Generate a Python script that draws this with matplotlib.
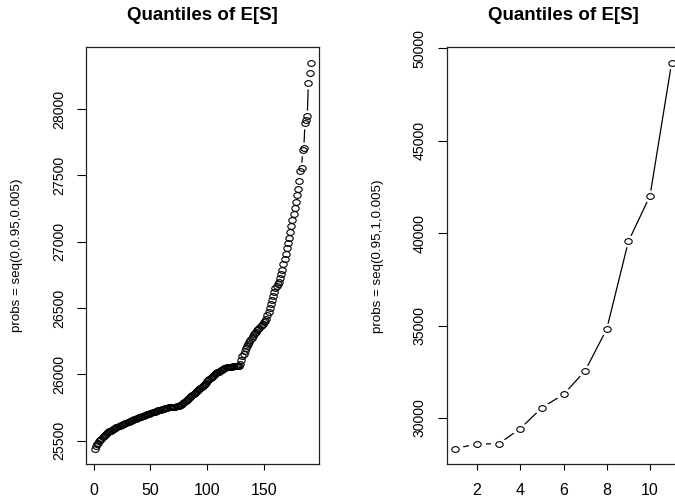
import matplotlib
matplotlib.use("Agg")
import matplotlib.pyplot as plt
from matplotlib.path import Path
import numpy as np

plt.rcParams['font.family'] = ['Liberation Sans', 'DejaVu Sans']

# Left panel: quantiles at probs = seq(0, 0.95, 0.005)  (191 values)
left_q = [
    25440, 25458, 25472, 25485, 25496, 25506, 25515, 25524, 25534, 25545,
    25553, 25560, 25566, 25571, 25576, 25581, 25586, 25591, 25596, 25600,
    25604, 25608, 25612, 25616, 25620, 25624, 25628, 25632, 25636, 25640,
    25643, 25647, 25650, 25654, 25657, 25661, 25664, 25668, 25671, 25675,
    25678, 25681, 25685, 25688, 25692, 25695, 25698, 25701, 25704, 25707,
    25710, 25713, 25716, 25719, 25722, 25725, 25728, 25731, 25734, 25737,
    25740, 25742, 25745, 25747, 25749, 25751, 25752, 25753, 25754, 25755,
    25756, 25757, 25758, 25760, 25763, 25767, 25772, 25778, 25784, 25790,
    25797, 25805, 25813, 25821, 25829, 25837, 25845, 25853, 25861, 25869,
    25877, 25884, 25891, 25898, 25906, 25914, 25922, 25930, 25938, 25946,
    25954, 25962, 25970, 25978, 25986, 25993, 26000, 26007, 26014, 26020,
    26026, 26031, 26036, 26041, 26045, 26049, 26052, 26054, 26056, 26057,
    26058, 26058, 26059, 26059, 26060, 26060, 26061, 26062, 26080, 26110,
    26135, 26155, 26175, 26195, 26212, 26228, 26244, 26260, 26275, 26290,
    26302, 26312, 26322, 26332, 26342, 26352, 26362, 26372, 26382, 26391,
    26400, 26420, 26445, 26470, 26500, 26530, 26560, 26590, 26620, 26650,
    26665, 26680, 26700, 26725, 26755, 26790, 26830, 26870, 26910, 26950,
    26990, 27030, 27075, 27120, 27165, 27210, 27255, 27300, 27350, 27400,
    27455, 27535, 27555, 27690, 27710, 27895, 27920, 27945, 28200, 28270,
    28350,
]

# Right panel: quantiles at probs = seq(0.95, 1, 0.005)  (11 values)
right_q = [28344, 28597, 28600, 29423, 30555, 31273, 32551, 34817, 39550, 42028, 49223]

title = "Quantiles of E[S]"
left_ylabel = "probs = seq(0,0.95,0.005)"
right_ylabel = "probs = seq(0.95,1,0.005)"
left_xticks = [0, 50, 100, 150]
left_yticks = [25500, 26000, 26500, 27000, 27500, 28000]
right_xticks = [2, 4, 6, 8, 10]
right_yticks = [30000, 35000, 40000, 45000, 50000]

W, H = 675, 501
fig = plt.figure(figsize=(W / 100, H / 100), dpi=100)
fig.patch.set_facecolor('white')


def ellipse(ratio):
    t = np.linspace(0, 2 * np.pi, 73)
    return Path(np.column_stack([np.cos(t), ratio * np.sin(t)]), closed=True)


ring = ellipse(0.78)
gap = ellipse(0.68)


def r_range(vals):
    lo, hi = min(vals), max(vals)
    d = (hi - lo) * 0.04
    return lo - d, hi + d


def panel(rect, vals, xticks, yticks):
    ax = fig.add_axes(rect)
    x = np.arange(1, len(vals) + 1)
    ax.plot(x, vals, color='black', lw=0.9, zorder=1)
    ax.plot(x, vals, linestyle='none', marker=gap, ms=12.5, mfc='white', mec='white', mew=0, zorder=2)
    ax.plot(x, vals, linestyle='none', marker=ring, ms=5.3, mfc='none', mec='black', mew=0.8, zorder=3)
    ax.set_xlim(*r_range(x))
    ax.set_ylim(*r_range(vals))
    ax.set_xticks(xticks)
    ax.set_yticks(yticks)
    ax.set_xticklabels([str(t) for t in xticks], fontsize=11.5)
    ax.set_yticklabels([str(t) for t in yticks], fontsize=10.2, rotation=90, va='center')
    ax.tick_params(axis='x', length=4.5, width=0.8, pad=9, colors='black')
    ax.tick_params(axis='y', length=6.5, width=0.8, pad=8, colors='black')
    for s in ax.spines.values():
        s.set_linewidth(0.9)
        s.set_color('#222222')
    return ax


bottom = 37 / H
height = 416.7 / H
axL = panel([86 / W, bottom, 233.3 / W, height], left_q, left_xticks, left_yticks)
axR = panel([446.7 / W, bottom, 233.6 / W, height], right_q, right_xticks, right_yticks)

fig.text(202.7 / W, 1 - 16 / H, title, ha='center', va='center', fontsize=13.5, fontweight='bold')
fig.text(563 / W, 1 - 16 / H, title, ha='center', va='center', fontsize=13.5, fontweight='bold')
fig.text(17.5 / W, 1 - 255.7 / H, left_ylabel, ha='center', va='center', rotation=90, fontsize=9.6)
fig.text(378 / W, 1 - 255.7 / H, right_ylabel, ha='center', va='center', rotation=90, fontsize=9.6)

fig.savefig('out.png', dpi=100, facecolor='white')
